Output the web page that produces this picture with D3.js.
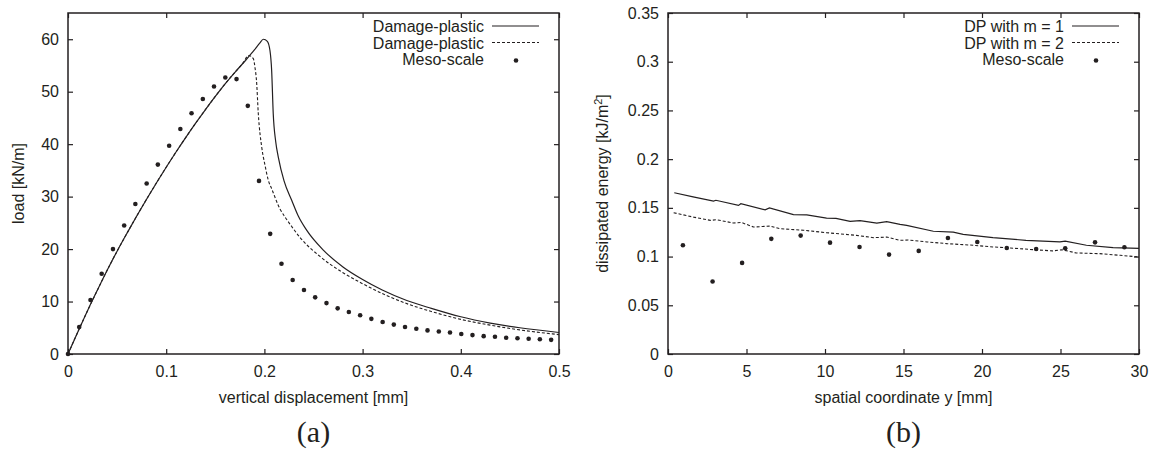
<!DOCTYPE html>
<html>
<head>
<meta charset="utf-8">
<script src="https://cdn.jsdelivr.net/npm/d3@7"></script>
<style>
  body { margin: 0; background: #fff; }
  svg { display: block; }
  .axis text { font-family: "Liberation Sans", Arial, sans-serif; font-size: 16px; fill: #231f20; }
  .axis path, .axis line { stroke: #231f20; }
</style>
</head>
<body>
<svg id="chart" width="1154" height="452"></svg>
<script>
// (a) load vs vertical displacement
var dispTicks = [0, 0.1, 0.2, 0.3, 0.4, 0.5];
var loadTicks = [0, 10, 20, 30, 40, 50, 60];
var dpSolid = [
    [0, 0], [0.01, 4.2], [0.02, 8.3], [0.03, 12.2], [0.04, 16.0], [0.05, 19.6],
    [0.06, 23.0], [0.07, 26.3], [0.08, 29.5], [0.09, 32.6], [0.10, 35.6], [0.11, 38.5],
    [0.12, 41.3], [0.13, 44.0], [0.14, 46.6], [0.15, 49.1], [0.16, 51.5], [0.17, 53.7],
    [0.18, 55.8], [0.19, 58.0], [0.195, 59.2], [0.199, 60.0], [0.203, 59.6], [0.2057, 57.8],
    [0.2074, 54.0], [0.209, 45.8], [0.2115, 40.5], [0.2142, 37.5], [0.22, 33.0],
    [0.2278, 29.3], [0.2345, 26.3], [0.243, 23.6], [0.26, 19.8], [0.28, 16.6], [0.30, 14.2],
    [0.32, 12.2], [0.345, 10.2], [0.37, 8.7], [0.40, 7.1], [0.43, 5.9], [0.46, 5.0], [0.50, 4.1]
];
var dpDashed = [
    [0, 0], [0.01, 4.2], [0.02, 8.3], [0.03, 12.2], [0.04, 16.0], [0.05, 19.6],
    [0.06, 23.0], [0.07, 26.3], [0.08, 29.5], [0.09, 32.6], [0.10, 35.6], [0.11, 38.5],
    [0.12, 41.3], [0.13, 44.0], [0.14, 46.6], [0.15, 49.1], [0.16, 51.5], [0.17, 53.7],
    [0.178, 55.4], [0.184, 56.9], [0.1887, 56.3], [0.1905, 54.5], [0.192, 52.0], [0.1938, 45.8],
    [0.1973, 39.4], [0.2006, 36.0], [0.204, 33.1], [0.2074, 31.5], [0.216, 27.6], [0.221, 26.1],
    [0.2278, 24.3], [0.2363, 22.2], [0.2566, 18.6], [0.28, 15.5], [0.30, 13.4], [0.325, 11.1],
    [0.348, 9.4], [0.37, 8.1], [0.40, 6.6], [0.43, 5.5], [0.46, 4.6], [0.50, 3.7]
];
var mesoA = [
    [0, 0], [0.0114, 5.15], [0.0229, 10.3], [0.0343, 15.3], [0.0458, 20.0], [0.0572, 24.5],
    [0.0686, 28.6], [0.0801, 32.5], [0.0915, 36.1], [0.1030, 39.7], [0.1144, 42.9],
    [0.1258, 45.9], [0.1373, 48.6], [0.1487, 51.0], [0.1602, 52.7], [0.1716, 52.4],
    [0.1831, 47.3], [0.1945, 33.0], [0.2059, 22.9], [0.2174, 17.2], [0.2288, 14.1],
    [0.2403, 12.2], [0.2517, 10.8], [0.2632, 9.7], [0.2746, 8.7], [0.2860, 8.0],
    [0.2975, 7.4], [0.3089, 6.7], [0.3204, 6.1], [0.3318, 5.6], [0.3432, 5.15],
    [0.3547, 4.8], [0.3661, 4.5], [0.3776, 4.3], [0.3890, 4.1], [0.4005, 3.8],
    [0.4119, 3.6], [0.4233, 3.4], [0.4348, 3.3], [0.4462, 3.1], [0.4577, 3.0],
    [0.4691, 2.9], [0.4805, 2.8], [0.4920, 2.7]
];

// (b) dissipated energy vs spatial coordinate
var coordTicks = [0, 5, 10, 15, 20, 25, 30];
var energyTicks = [0, 0.05, 0.1, 0.15, 0.2, 0.25, 0.3, 0.35];
var m1 = [
    [0.4, 0.1655], [1.6, 0.1612], [2.9, 0.157], [3.05, 0.1578], [4.49, 0.1525], [4.64, 0.1542],
    [6.19, 0.148], [6.46, 0.150], [7.99, 0.143], [8.84, 0.1428], [10.1, 0.1395], [10.7, 0.1392],
    [11.6, 0.1361], [12.23, 0.1368], [13.3, 0.1344], [13.93, 0.1358], [14.78, 0.1331],
    [15.2, 0.132], [16.9, 0.126], [18.17, 0.125], [18.8, 0.1228], [20.7, 0.1194],
    [22.8, 0.1167], [24.96, 0.115], [25.3, 0.1158], [26.65, 0.1116], [28.35, 0.1092], [30, 0.1085]
];
var m2 = [
    [0.36, 0.145], [1.63, 0.1405], [2.69, 0.1372], [3.1, 0.1378], [4.17, 0.1344], [4.66, 0.1351],
    [5.45, 0.1303], [6.5, 0.1313], [7.14, 0.1286], [8.63, 0.127], [10.1, 0.1245], [12.0, 0.1218],
    [13.08, 0.1194], [13.93, 0.12], [14.78, 0.1167], [15.3, 0.117], [16.5, 0.115],
    [17.75, 0.1133], [19.45, 0.1116], [20.7, 0.1099], [21.8, 0.1088], [23.26, 0.1071],
    [24.5, 0.1058], [25.1, 0.107], [26.0, 0.1037], [27.5, 0.103], [28.8, 0.1013], [30, 0.0996]
];
var mesoB = [
    [0.95, 0.1116], [2.84, 0.0744], [4.72, 0.0935], [6.58, 0.1182], [8.45, 0.1215],
    [10.32, 0.1143], [12.2, 0.1099], [14.08, 0.102], [15.97, 0.1058], [17.83, 0.119],
    [19.70, 0.115], [21.58, 0.1088], [23.45, 0.1078], [25.3, 0.1085], [27.2, 0.1146], [29.07, 0.1095]
];

var ink = "#231f20";
var svg = d3.select("#chart");

function add_panel(opt) {
    var x = d3.scaleLinear().domain(opt.xDomain).range([opt.left, opt.right]);
    var y = d3.scaleLinear().domain(opt.yDomain).range([opt.bottom, opt.top]);
    var g = svg.append("g");

    g.append("g").attr("class", "axis")
        .attr("transform", "translate(0," + opt.bottom + ")")
        .call(d3.axisBottom(x).tickValues(opt.xTicks).tickSizeInner(-5).tickSizeOuter(0).tickPadding(11.5).tickFormat(d3.format("")));
    g.append("g").attr("class", "axis")
        .attr("transform", "translate(0," + opt.top + ")")
        .call(d3.axisTop(x).tickValues(opt.xTicks).tickSizeInner(-5).tickSizeOuter(0).tickFormat(""));
    g.append("g").attr("class", "axis")
        .attr("transform", "translate(" + opt.left + ",0)")
        .call(d3.axisLeft(y).tickValues(opt.yTicks).tickSizeInner(-5).tickSizeOuter(0).tickPadding(9).tickFormat(d3.format("")));
    g.append("g").attr("class", "axis")
        .attr("transform", "translate(" + opt.right + ",0)")
        .call(d3.axisRight(y).tickValues(opt.yTicks).tickSizeInner(-5).tickSizeOuter(0).tickFormat(""));
    g.selectAll(".axis path").remove();
    g.selectAll(".axis line").attr("stroke-width", 1.2);

    g.append("rect")
        .attr("x", opt.left).attr("y", opt.top)
        .attr("width", opt.right - opt.left).attr("height", opt.bottom - opt.top)
        .attr("fill", "none").attr("stroke", ink).attr("stroke-width", 1.5);

    var line = d3.line().curve(opt.curve)
        .x(function(d) { return x(d[0]); })
        .y(function(d) { return y(d[1]); });

    g.append("path").datum(opt.solid)
        .attr("d", line).attr("fill", "none").attr("stroke", ink).attr("stroke-width", 1.2);
    g.append("path").datum(opt.dashed)
        .attr("d", line).attr("fill", "none").attr("stroke", ink).attr("stroke-width", 1.1)
        .attr("stroke-dasharray", "3,2");
    g.selectAll("circle.dot").data(opt.dots).enter().append("circle")
        .attr("class", "dot")
        .attr("cx", function(d) { return x(d[0]); })
        .attr("cy", function(d) { return y(d[1]); })
        .attr("r", 2.3).attr("fill", ink);

    // axis titles
    g.append("text")
        .attr("x", (opt.left + opt.right) / 2).attr("y", opt.bottom + 49)
        .attr("text-anchor", "middle")
        .style("font-family", "Liberation Sans, Arial, sans-serif").style("font-size", "16px").style("fill", ink)
        .text(opt.xLabel);
    var yl = g.append("text")
        .attr("transform", "translate(" + opt.yLabelX + "," + (opt.top + opt.bottom) / 2 + ") rotate(-90)")
        .attr("text-anchor", "middle")
        .style("font-family", "Liberation Sans, Arial, sans-serif").style("font-size", "16px").style("fill", ink);
    opt.yLabel(yl);

    g.append("text")
        .attr("x", (opt.left + opt.right) / 2).attr("y", opt.bottom + 88)
        .attr("text-anchor", "middle")
        .style("font-family", "Liberation Serif, Times New Roman, serif").style("font-size", "30px").style("fill", ink)
        .text(opt.tag);

    // legend
    var lx = opt.legendX;
    opt.legend.forEach(function(name, i) {
        var cy = 26 + i * 16.5;
        g.append("text")
            .attr("x", lx).attr("y", cy + 6)
            .attr("text-anchor", "end")
            .style("font-family", "Liberation Sans, Arial, sans-serif").style("font-size", "16px").style("fill", ink)
            .text(name);
        if (i < 2) {
            g.append("line")
                .attr("x1", lx + 8).attr("x2", lx + 55).attr("y1", cy).attr("y2", cy)
                .attr("stroke", ink).attr("stroke-width", i === 0 ? 1.2 : 1.1)
                .attr("stroke-dasharray", i === 0 ? null : "3,2");
        } else {
            g.append("circle").attr("cx", lx + 32).attr("cy", cy + 1.5).attr("r", 2.3).attr("fill", ink);
        }
    });
}

add_panel({
    left: 68, right: 559, top: 13, bottom: 354,
    xDomain: [0, 0.5], yDomain: [0, 65],
    xTicks: dispTicks, yTicks: loadTicks,
    solid: dpSolid, dashed: dpDashed, dots: mesoA,
    curve: d3.curveMonotoneX,
    xLabel: "vertical displacement [mm]",
    yLabelX: 24,
    yLabel: function(t) { t.text("load [kN/m]"); },
    tag: "(a)",
    legendX: 484,
    legend: ["Damage-plastic", "Damage-plastic", "Meso-scale"]
});

add_panel({
    left: 668, right: 1139, top: 13, bottom: 354,
    xDomain: [0, 30], yDomain: [0, 0.35],
    xTicks: coordTicks, yTicks: energyTicks,
    solid: m1, dashed: m2, dots: mesoB,
    curve: d3.curveLinear,
    xLabel: "spatial coordinate y [mm]",
    yLabelX: 608,
    yLabel: function(t) {
        t.append("tspan").text("dissipated energy [kJ/m");
        t.append("tspan").attr("dy", -6).style("font-size", "11px").text("2");
        t.append("tspan").attr("dy", 6).text("]");
    },
    tag: "(b)",
    legendX: 1064,
    legend: ["DP with m = 1", "DP with m = 2", "Meso-scale"]
});
</script>
</body>
</html>
